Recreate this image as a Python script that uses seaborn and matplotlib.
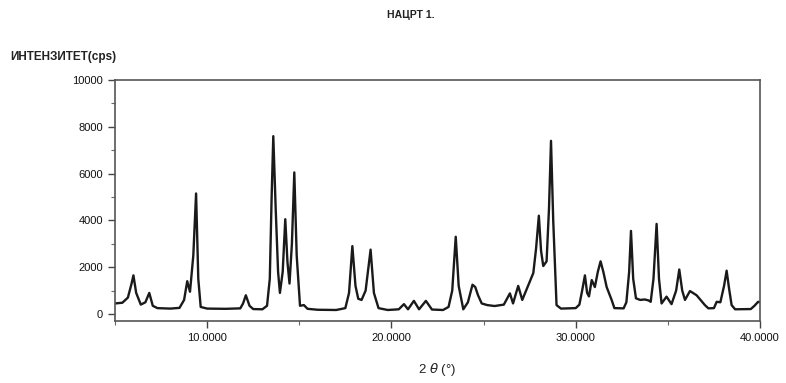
import matplotlib
matplotlib.use('Agg')
import matplotlib.pyplot as plt
from matplotlib.ticker import MultipleLocator, FormatStrFormatter
import pandas as pd
import seaborn as sns

# ── data ──────────────────────────────────────────────────────────────────────
two_theta = [
    5.0, 5.4, 5.7, 5.9, 6.0, 6.15, 6.4, 6.65, 6.86, 7.05, 7.3, 8.0, 8.5, 8.75,
    8.92, 9.07, 9.25, 9.4, 9.52, 9.65, 10.0, 11.0, 11.8, 11.95, 12.1, 12.3,
    12.5, 13.0, 13.25, 13.4, 13.5, 13.59, 13.72, 13.85, 13.95, 14.1, 14.24,
    14.36, 14.47, 14.6, 14.73, 14.86, 15.04, 15.25, 15.45, 16.0, 17.0, 17.5,
    17.7, 17.88, 18.05, 18.2, 18.38, 18.6, 18.87, 19.05, 19.3, 19.8, 20.4,
    20.68, 20.9, 21.22, 21.5, 21.87, 22.2, 22.8, 23.1, 23.3, 23.49, 23.65,
    23.9, 24.15, 24.4, 24.55, 24.7, 24.9, 25.2, 25.6, 26.1, 26.43, 26.6,
    26.88, 27.1, 27.43, 27.7, 27.85, 28.0, 28.12, 28.24, 28.42, 28.55, 28.66,
    28.78, 28.96, 29.2, 30.0, 30.2, 30.35, 30.5, 30.62, 30.72, 30.87, 31.04,
    31.2, 31.35, 31.5, 31.68, 31.95, 32.1, 32.6, 32.75, 32.9, 33.0, 33.12,
    33.27, 33.5, 33.75, 33.95, 34.07, 34.22, 34.39, 34.52, 34.66, 34.93,
    35.2, 35.45, 35.62, 35.78, 35.93, 36.2, 36.56, 37.01, 37.2, 37.5, 37.65,
    37.85, 38.05, 38.19, 38.32, 38.46, 38.65, 39.5, 39.7, 39.9, 40.0,
]
intensity = [
    450, 480, 700, 1300, 1650, 900, 400, 500, 900, 350, 250, 230, 260, 600,
    1400, 950, 2500, 5150, 1500, 300, 230, 220, 240, 450, 800, 350,
    210, 200, 350, 1500, 5000, 7600, 4500, 1800, 900, 1800, 4050,
    2200, 1300, 3000, 6050, 2500, 350, 380, 220, 180, 170, 250,
    900, 2900, 1200, 650, 600, 1000, 2750, 900, 250, 170, 200,
    420, 200, 560, 200, 560, 190, 170, 300, 1000, 3300, 1200,
    200, 500, 1250, 1150, 800, 450, 380, 340, 400, 880, 450,
    1200, 600, 1230, 1750, 2800, 4200, 2700, 2050, 2250, 4500, 7400,
    4000, 380, 230, 250, 400, 1000, 1650, 900, 750, 1450, 1150,
    1800, 2250, 1800, 1150, 600, 250, 240, 500, 1800, 3550, 1500,
    670, 600, 620, 580, 520, 1500, 3850, 1500, 450, 740,
    420, 1000, 1900, 1000, 600, 980, 800, 380, 240, 250, 520,
    500, 1200, 1850, 1100, 380, 200, 210, 350, 520, 500,
]

df = pd.DataFrame({'two_theta': two_theta, 'intensity': intensity})

sns.set_style('ticks')
plt.rcParams['font.family'] = ['Liberation Sans', 'DejaVu Sans']

fig = plt.figure(figsize=(7.86, 3.83), dpi=100)
ax = fig.add_axes([0.1463, 0.1619, 0.8206, 0.6292])

sns.lineplot(data=df, x='two_theta', y='intensity', color='#1a1a1a',
             linewidth=1.7, ax=ax)

ax.set_xlim(5, 40)
ax.set_ylim(-300, 10000)
ax.xaxis.set_major_locator(MultipleLocator(10))
ax.xaxis.set_minor_locator(MultipleLocator(5))
ax.xaxis.set_major_formatter(FormatStrFormatter('%.4f'))
ax.yaxis.set_major_locator(MultipleLocator(2000))
ax.yaxis.set_minor_locator(MultipleLocator(1000))
ax.tick_params(which='major', length=5, width=1, color='#444444',
               labelsize=8, labelcolor='#111111', direction='out')
ax.tick_params(which='minor', length=3, width=0.8, color='#666666',
               direction='out')
for sp in ax.spines.values():
    sp.set_visible(True)
    sp.set_color('#555555')
    sp.set_linewidth(1.2)

ax.set_xlabel('')
ax.set_ylabel('')

fig.text(0.523, 0.962, 'НАЦРТ 1.', ha='center', va='center',
         fontsize=7.5, fontweight='bold', color='#222222')
fig.text(0.013, 0.85, 'ИНТЕНЗИТЕТ(cps)', ha='left', va='center',
         fontsize=8.5, fontweight='bold', color='#222222')
fig.text(0.556, 0.035, '2 $\\theta$ (°)', ha='center', va='center',
         fontsize=9.5, color='#222222')

plt.savefig('out.png', dpi=100)
